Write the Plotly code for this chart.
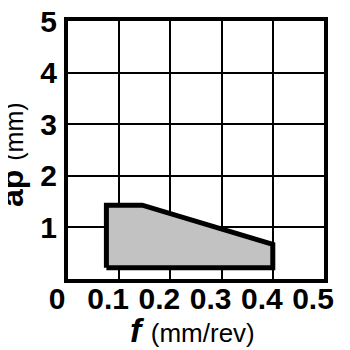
import plotly.graph_objects as go

# Region boundary (feed f in mm/rev, depth of cut ap in mm)
f_vals = [0.075, 0.075, 0.145, 0.40, 0.40, 0.075]
ap_vals = [0.22, 1.43, 1.43, 0.67, 0.22, 0.22]

x_ticks = [0, 0.1, 0.2, 0.3, 0.4, 0.5]
x_tick_labels = ["0", "0.1", "0.2", "0.3", "0.4", "0.5"]
y_ticks = [0, 1, 2, 3, 4, 5]
y_tick_labels = ["", "1", "2", "3", "4", "5"]  # shared "0" is drawn by the x axis

x_title = "<b><i>f</i></b> <span style='font-size:26px'>(mm/rev)</span>"
y_title = "<b>ap</b> <span style='font-size:25px'>(mm)</span>"

FONT = "Liberation Sans, Arial, sans-serif"

fig = go.Figure()
fig.add_trace(go.Scatter(
    x=f_vals, y=ap_vals, mode="lines", fill="toself",
    fillcolor="#c2c2c2", line=dict(color="black", width=5),
    hoverinfo="skip", showlegend=False,
))

# the page body has an 8px default margin, so the figure is 342px and offset
fig.update_layout(
    width=342, height=342,
    margin=dict(l=60, r=26, t=13, b=71, autoexpand=False),
    paper_bgcolor="white", plot_bgcolor="white",
    font=dict(family=FONT, color="black"),
    xaxis=dict(
        range=[0, 0.5], tickvals=x_ticks, ticktext=x_tick_labels,
        showgrid=True, gridcolor="black", gridwidth=2,
        showline=True, linecolor="black", linewidth=4, mirror=True,
        zeroline=False, ticks="", automargin=False,
        tickfont=dict(family=FONT, size=30, weight="bold"),
        ticklabelshift=-11, ticklabelstandoff=-10,
        ticklabeloverflow="allow",
        fixedrange=True,
    ),
    yaxis=dict(
        range=[0, 5], tickvals=y_ticks, ticktext=y_tick_labels,
        showgrid=True, gridcolor="black", gridwidth=2,
        showline=True, linecolor="black", linewidth=4, mirror=True,
        zeroline=False, ticks="", automargin=False,
        tickfont=dict(family=FONT, size=30, weight="bold"),
        ticklabelstandoff=1, ticklabeloverflow="allow",
        fixedrange=True,
    ),
    annotations=[
        dict(text=x_title, xref="paper", yref="paper", x=0.5, y=0,
             xanchor="center", yanchor="middle", xshift=-4, yshift=-51,
             showarrow=False, font=dict(family=FONT, size=34, color="black")),
        dict(text=y_title, xref="paper", yref="paper", x=0, y=0.5,
             xanchor="center", yanchor="middle", xshift=-56, yshift=-5,
             textangle=-90, showarrow=False,
             font=dict(family=FONT, size=32, color="black")),
    ],
)

fig.write_html("out.html")
